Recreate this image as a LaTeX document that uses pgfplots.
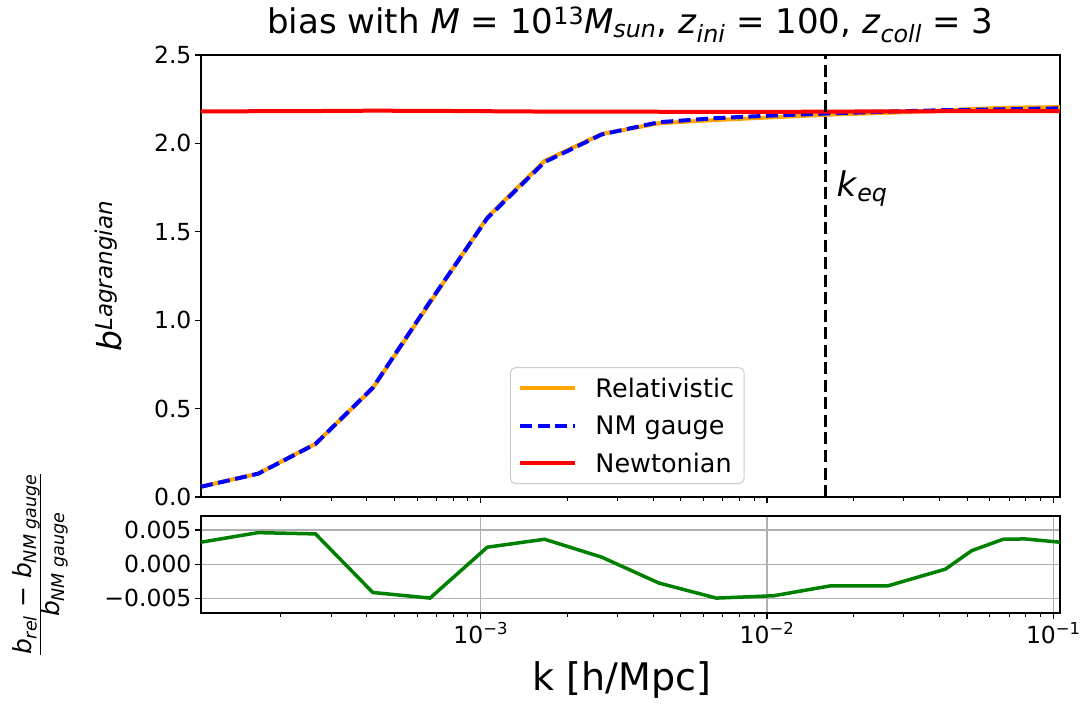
\documentclass[border=0pt]{standalone}
\usepackage{fontspec}
\setmainfont{DejaVu Sans}
\usepackage{pgfplots}
\usepackage{pgfplotstable}
\pgfplotsset{compat=1.18}
\definecolor{mplorange}{RGB}{255,165,0}
\definecolor{mplgreen}{RGB}{0,128,0}
\definecolor{gridgray}{RGB}{176,176,176}
\definecolor{leggray}{RGB}{204,204,204}

\pgfplotstableread{
k        nm     rel    newt   ratio
1.054e-4 0.0580 0.0582 2.181  0.00321
1.671e-4 0.1320 0.1326 2.182  0.00461
2.648e-4 0.3000 0.3013 2.183  0.00442
4.197e-4 0.6180 0.6154 2.185  -0.00414
6.652e-4 1.1050 1.0995 2.184  -0.00496
1.054e-3 1.5770 1.5809 2.182  0.00248
1.671e-3 1.8940 1.9009 2.180  0.00364
2.648e-3 2.0510 2.0531 2.179  0.00102
4.197e-3 2.1200 2.1141 2.179  -0.00277
6.652e-3 2.1430 2.1324 2.178  -0.00496
1.054e-2 2.1580 2.1480 2.178  -0.00462
1.671e-2 2.1700 2.1631 2.180  -0.00316
2.648e-2 2.1800 2.1731 2.181  -0.00316
4.197e-2 2.1880 2.1864 2.182  -0.00073
5.19e-2  2.1900 2.1943 2.182  0.00198
6.68e-2  2.1930 2.2010 2.182  0.00364
7.96e-2  2.1950 2.2031 2.182  0.00369
0.1055   2.1980 2.2051 2.182  0.00321
}\datatable

\begin{document}
\begin{tikzpicture}
\path (-201pt,-207pt) rectangle (888pt,497pt);
\begin{axis}[
  at={(0pt,0pt)}, anchor=south west,
  scale only axis, width=859pt, height=442pt,
  xmode=log, xmin=1.054e-4, xmax=0.1055,
  ymin=0, ymax=2.5,
  axis line style={black, line width=1.1pt},
  tick align=outside, tick pos=left,
  major tick length=6pt, minor tick length=3.5pt,
  major tick style={black, line width=1.1pt},
  minor tick style={black, line width=0.8pt},
  xtick={1e-3,1e-2,1e-1},
  minor xtick={2e-4,3e-4,4e-4,5e-4,6e-4,7e-4,8e-4,9e-4,2e-3,3e-3,4e-3,5e-3,6e-3,7e-3,8e-3,9e-3,2e-2,3e-2,4e-2,5e-2,6e-2,7e-2,8e-2,9e-2},
  tick label style={font=\fontsize{23.5}{27}\selectfont},
  scaled y ticks=false,
  ytick={0,0.5,1,1.5,2,2.5},
  yticklabels={0.0,0.5,1.0,1.5,2.0,2.5},
  xticklabels={,,},
  title={bias with \textit{M} = 10\textsuperscript{13}\textit{M}\textsubscript{\textit{sun}}, \textit{z}\textsubscript{\textit{ini}} = 100, \textit{z}\textsubscript{\textit{coll}} = 3},
  title style={font=\fontsize{34}{40}\selectfont, at={(axis description cs:0.5,1.036)}, anchor=base},
  ylabel={\textit{b}\textsuperscript{\textit{Lagrangian}}},
  ylabel style={font=\fontsize{33}{38}\selectfont, at={(axis description cs:-0.108,0.5)}, anchor=center},
  legend cell align=left,
  legend image code/.code={\draw[#1] (0pt,0pt) -- (55pt,0pt);},
  legend style={at={(axis description cs:0.3597,0.0294)}, anchor=south west,
    draw=leggray, line width=1pt, rounded corners=5pt, fill=white,
    font=\fontsize{25.5}{30}\selectfont, inner xsep=8pt, inner ysep=8pt, row sep=13pt,
    /tikz/every odd column/.append style={column sep=16pt}},
]
\addplot[mplorange, line width=4pt] table[x=k, y=rel] {\datatable};
\addlegendentry{Relativistic}
\addplot[blue, line width=4pt, dash pattern=on 12pt off 5.5pt] table[x=k, y=nm] {\datatable};
\addlegendentry{NM gauge}
\addplot[red, line width=4pt] table[x=k, y=newt] {\datatable};
\addlegendentry{Newtonian}
\addplot[black, line width=3.3pt, dash pattern=on 12pt off 5.5pt, forget plot] coordinates {(0.01596,0) (0.01596,2.5)};
\node[anchor=base west, font=\fontsize{34}{40}\selectfont] at (axis cs:0.0170,1.70) {\textit{k}\textsubscript{\textit{eq}}};
\end{axis}

\begin{axis}[
  at={(0pt,-19pt)}, anchor=north west,
  scale only axis, width=859pt, height=97pt,
  xmode=log, xmin=1.054e-4, xmax=0.1055,
  ymin=-0.00714, ymax=0.00704,
  axis line style={black, line width=1.1pt},
  tick align=outside, tick pos=left,
  major tick length=6pt, minor tick length=3.5pt,
  major tick style={black, line width=1.1pt},
  minor tick style={black, line width=0.8pt},
  xtick={1e-3,1e-2,1e-1},
  minor xtick={2e-4,3e-4,4e-4,5e-4,6e-4,7e-4,8e-4,9e-4,2e-3,3e-3,4e-3,5e-3,6e-3,7e-3,8e-3,9e-3,2e-2,3e-2,4e-2,5e-2,6e-2,7e-2,8e-2,9e-2},
  tick label style={font=\fontsize{23.5}{27}\selectfont},
  scaled y ticks=false,
  ytick={-0.005,0,0.005},
  yticklabels={−0.005,0.000,0.005},
  xticklabels={10\textsuperscript{−3},10\textsuperscript{−2},10\textsuperscript{−1}},
  grid=major, major grid style={gridgray, line width=1.1pt},
  xlabel={k [h/Mpc]},
  xlabel style={font=\fontsize{38}{44}\selectfont, at={(axis description cs:0.49,-0.794)}, anchor=base},
  ylabel={$\frac{\mbox{\textit{b}\textsubscript{\textit{rel}} − \textit{b}\textsubscript{\textit{NM gauge}}}}{\mbox{\textit{b}\textsubscript{\textit{NM gauge}}}}$},
  ylabel style={font=\fontsize{25}{29}\selectfont, at={(axis description cs:-0.187,0.5)}, anchor=center},
]
\addplot[mplgreen, line width=3.5pt] table[x=k, y=ratio] {\datatable};
\end{axis}
\end{tikzpicture}
\end{document}
